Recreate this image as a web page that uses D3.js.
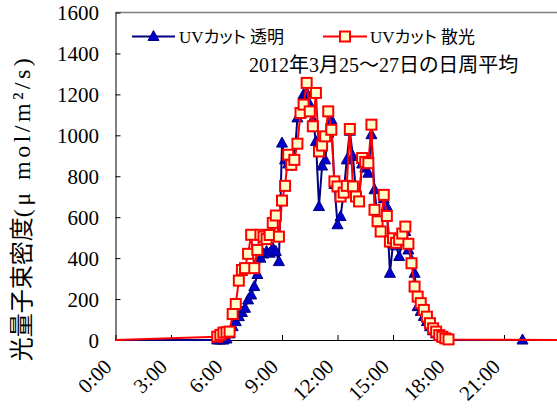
<!DOCTYPE html>
<html>
<head>
<meta charset="utf-8">
<script src="https://cdn.jsdelivr.net/npm/d3@7"></script>
<style>
  html, body { margin: 0; padding: 0; background: #fff; }
  svg { display: block; }
</style>
</head>
<body>
<svg id="chart" width="557" height="410"></svg>
<script>
// Daytime readings, 10-minute steps (mean of 25-27 March 2012)
const times = [
  "5:30","5:40","5:50","6:00","6:10","6:20","6:30","6:40","6:50","7:00",
  "7:10","7:20","7:30","7:40","7:50","8:00","8:10","8:20","8:30","8:40",
  "8:50","9:00","9:10","9:20","9:30","9:40","9:50","10:00","10:10","10:20",
  "10:30","10:40","10:50","11:00","11:10","11:20","11:30","11:40","11:50","12:00",
  "12:10","12:20","12:30","12:40","12:50","13:00","13:10","13:20","13:30","13:40",
  "13:50","14:00","14:10","14:20","14:30","14:40","14:50","15:00","15:10","15:20",
  "15:30","15:40","15:50","16:00","16:10","16:20","16:30","16:40","16:50","17:00",
  "17:10","17:20","17:30","17:40","17:50","18:00"
];

// UVカット 透明
const clearValues = [
  0, 0, 0, 5, 30, 65, 90, 114, 134, 155,
  196, 220, 261, 320, 400, 420, 432, 424, 449, 432,
  383, 962, 880, 860, 850, 880, 1085, 1110, 1199, 1207,
  1150, 1076, 970, 652, 850, 880, 1011, 1076, 760, 563,
  603, 720, 880, 1020, 897, 720, 700, 860, 840, 815,
  1003, 734, 600, 540, 690, 652, 326, 470, 460, 408,
  480, 530, 440, 390, 326, 163, 140, 115, 90, 65,
  45, 30, 18, 10, 4, 0
];
const clearLateTimes = ["22:00"];
const clearLateValues = [0];

// UVカット 散光
const diffuseValues = [
  16, 25, 36, 38, 41, 127, 176, 290, 342, 351,
  421, 514, 351, 440, 514, 505, 493, 513, 572, 608,
  505, 681, 753, 905, 856, 880, 959, 1109, 1150, 1256,
  1117, 1044, 1207, 921, 950, 995, 1117, 1027, 775, 750,
  701, 720, 753, 1031, 750, 701, 677, 889, 870, 864,
  1052, 636, 580, 530, 709, 606, 481, 497, 475, 490,
  520, 554, 470, 375, 261, 212, 180, 147, 114, 82,
  57, 41, 24, 16, 8, 3
];

const yTicks = [0, 200, 400, 600, 800, 1000, 1200, 1400, 1600];
const xTickHours = [0, 3, 6, 9, 12, 15, 18, 21];
const xTickLabels = ["0:00", "3:00", "6:00", "9:00", "12:00", "15:00", "18:00", "21:00"];
const seriesNames = ["UVカット 透明", "UVカット 散光"];
const subtitle = "2012年3月25～27日の日周平均";
const yTitle = "光量子束密度(μ mol/m²/s)";

const SERIF = '"Liberation Serif"';
const CJK = '"Noto Sans CJK JP"';
const toHours = s => { const [h, m] = s.split(":").map(Number); return h + m / 60; };

// Write mixed Japanese / Latin text as runs, each in its own face
function setMixedText(sel, str, latinSpacing) {
  const runs = str.match(/[\u3000-\u30ff\u4e00-\u9fff\uff00-\uffef]+|[^\u3000-\u30ff\u4e00-\u9fff\uff00-\uffef]+/g);
  runs.forEach(r => {
    const cjk = /[\u3000-\u30ff\u4e00-\u9fff\uff00-\uffef]/.test(r);
    const ts = sel.append("tspan").style("font-family", cjk ? CJK : SERIF).text(r);
    if (cjk) ts.style("font-feature-settings", '"palt"');
    else if (latinSpacing) ts.attr("letter-spacing", latinSpacing);
  });
}

const svg = d3.select("#chart");
const x = d3.scaleLinear().domain([0, 24]).range([115.5, 559.5]);
const y = d3.scaleLinear().domain([0, 1600]).range([340, 12.5]);

// plot frame (top edge)
svg.append("line")
  .attr("x1", x(0)).attr("x2", x(24))
  .attr("y1", y(1600)).attr("y2", y(1600))
  .attr("stroke", "#808080").attr("stroke-width", 1.5);

// y axis
const yAxis = svg.append("g")
  .attr("transform", `translate(${x(0)},0)`)
  .call(d3.axisLeft(y).tickValues(yTicks).tickSizeInner(-5).tickSizeOuter(0).tickPadding(16.5).tickFormat(d => d));
yAxis.select(".domain").attr("stroke", "#000");
yAxis.selectAll(".tick line").attr("stroke", "#000");
yAxis.selectAll("text").attr("dy", "0.34em")
  .style("font-family", SERIF).style("font-size", "21px");

// x axis
const xAxis = svg.append("g")
  .attr("transform", `translate(0,${y(0)})`)
  .call(d3.axisBottom(x).tickValues(xTickHours).tickSizeInner(-5).tickSizeOuter(0).tickFormat((d, i) => xTickLabels[i]));
xAxis.select(".domain").attr("stroke", "#000");
xAxis.selectAll(".tick line").attr("stroke", "#000");
xAxis.selectAll("text")
  .style("font-family", SERIF).style("font-size", "21px")
  .attr("text-anchor", "end")
  .attr("x", 0).attr("y", 0).attr("dy", 0)
  .attr("transform", "translate(-3,28) rotate(-45)");

// y title
const [titleMain, titleUnit] = yTitle.split("(");
svg.append("text")
  .style("font-size", "24px")
  .attr("transform", "translate(30,208) rotate(-90)")
  .attr("text-anchor", "middle")
  .call(t => {
    t.append("tspan").style("font-family", CJK).text(titleMain);
    t.append("tspan").style("font-family", SERIF).attr("letter-spacing", 3.5).text("(" + titleUnit);
  });

// series lines (night readings sit on zero across the full day)
const line = d3.line().x(d => x(d.t)).y(d => y(d.v));
const clearPts = times.map((s, i) => ({ t: toHours(s), v: clearValues[i] }))
  .concat(clearLateTimes.map((s, i) => ({ t: toHours(s), v: clearLateValues[i] })));
const diffusePts = times.map((s, i) => ({ t: toHours(s), v: diffuseValues[i] }));
const clearPath = [{ t: 0, v: 0 }].concat(clearPts, [{ t: 24, v: 0 }]);
const diffusePath = [{ t: 0, v: 0 }].concat(diffusePts, [{ t: 24, v: 0 }]);

const triangle = "M0,-6 L5.5,4 L-5.5,4 Z";

svg.append("path").datum(clearPath).attr("d", line)
  .attr("fill", "none").attr("stroke", "#000080").attr("stroke-width", 2);
svg.append("g").selectAll("path").data(clearPts).join("path")
  .attr("d", triangle)
  .attr("transform", d => `translate(${x(d.t)},${y(d.v)})`)
  .attr("fill", "#0000cc").attr("stroke", "#000080").attr("stroke-width", 1);

svg.append("path").datum(diffusePath).attr("d", line)
  .attr("fill", "none").attr("stroke", "#ff0000").attr("stroke-width", 2);
svg.append("g").selectAll("rect").data(diffusePts).join("rect")
  .attr("x", d => x(d.t) - 5).attr("y", d => y(d.v) - 5)
  .attr("width", 10).attr("height", 10)
  .attr("fill", "#ffffcc").attr("stroke", "#ff0000").attr("stroke-width", 2);

// legend
const lg = svg.append("g");
lg.append("line").attr("x1", 132).attr("x2", 175).attr("y1", 36.5).attr("y2", 36.5)
  .attr("stroke", "#000080").attr("stroke-width", 2);
lg.append("path").attr("d", triangle).attr("transform", "translate(153.5,36.5)")
  .attr("fill", "#0000cc").attr("stroke", "#000080");
lg.append("text").attr("x", 179).attr("y", 42.5).style("font-size", "17px")
  .call(t => setMixedText(t, seriesNames[0]));

lg.append("line").attr("x1", 323).attr("x2", 367).attr("y1", 36.5).attr("y2", 36.5)
  .attr("stroke", "#ff0000").attr("stroke-width", 2);
lg.append("rect").attr("x", 340).attr("y", 31.5).attr("width", 10).attr("height", 10)
  .attr("fill", "#ffffcc").attr("stroke", "#ff0000").attr("stroke-width", 2);
lg.append("text").attr("x", 370).attr("y", 42.5).style("font-size", "17px")
  .call(t => setMixedText(t, seriesNames[1]));

svg.append("text").attr("x", 249).attr("y", 72).style("font-size", "20px")
  .call(t => setMixedText(t, subtitle));
</script>
</body>
</html>
